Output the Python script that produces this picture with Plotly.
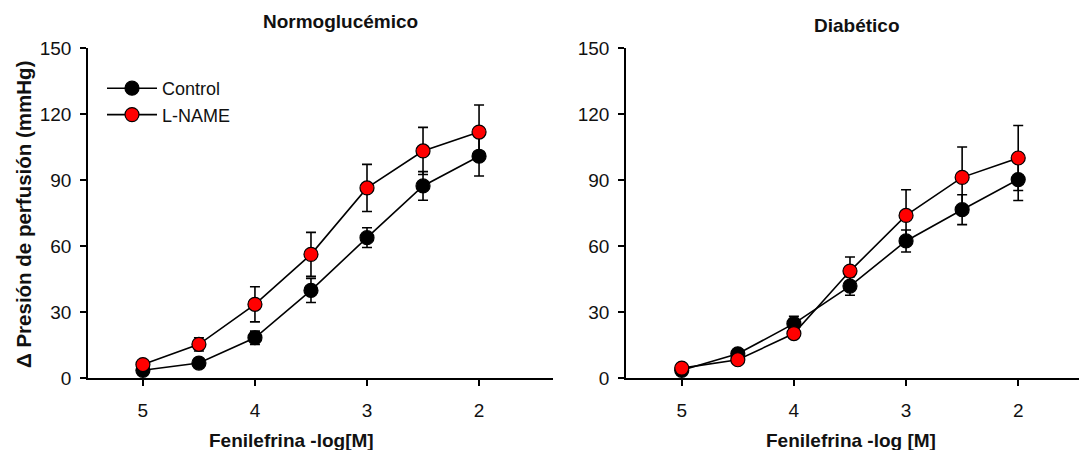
import plotly.graph_objects as go

# Data
x_vals = [5, 4.5, 4, 3.5, 3, 2.5, 2]
x_ticks = [5, 4, 3, 2]
y_ticks = [0, 30, 60, 90, 120, 150]

normo_control = [3.5, 6.8, 18.3, 39.8, 63.8, 87.3, 100.8]
normo_control_err = [1.0, 2.0, 3.0, 5.5, 4.5, 6.5, 9.0]
normo_lname = [6.1, 15.3, 33.5, 56.2, 86.4, 103.2, 111.8]
normo_lname_err = [1.5, 3.0, 8.0, 10.0, 10.7, 10.7, 12.3]

diab_control = [3.5, 11.0, 24.7, 41.8, 62.3, 76.5, 90.2]
diab_control_err = [1.0, 1.5, 3.3, 4.2, 5.0, 6.8, 9.5]
diab_lname = [4.5, 8.3, 20.2, 48.6, 73.9, 91.2, 100.0]
diab_lname_err = [1.0, 1.5, 2.0, 6.4, 11.7, 13.8, 14.8]

W, H = 1079, 450
FONT = "Liberation Sans, Arial, sans-serif"
TXT = "#111111"

fig = go.Figure()

def add_series(xa, ya, y, err, color, name, show):
    fig.add_trace(go.Scatter(
        x=x_vals, y=y, mode="lines+markers", name=name, showlegend=show,
        xaxis=xa, yaxis=ya,
        line=dict(color="black", width=1.6),
        marker=dict(size=14, color=color, line=dict(color="black", width=1.2)),
        error_y=dict(type="data", array=err, visible=True, color="black",
                     thickness=1.6, width=5),
    ))

add_series("x", "y", normo_control, normo_control_err, "black", "Control", True)
add_series("x", "y", normo_lname, normo_lname_err, "#ff0000", "L-NAME", True)
add_series("x2", "y2", diab_control, diab_control_err, "black", "Control", False)
add_series("x2", "y2", diab_lname, diab_lname_err, "#ff0000", "L-NAME", False)

ydom = [1 - 378 / H, 1 - 48 / H]
axis_common = dict(showline=True, linecolor="black", linewidth=1.6,
                   ticks="outside", ticklen=6, tickwidth=1.6, tickcolor="black",
                   showgrid=False, zeroline=False, automargin=False,
                   tickfont=dict(family=FONT, size=19, color=TXT))

fig.update_layout(
    width=W, height=H,
    margin=dict(l=0, r=0, t=0, b=0, pad=0, autoexpand=False),
    plot_bgcolor="white", paper_bgcolor="white",
    xaxis=dict(domain=[88 / W, 553 / W], range=[5.49, 1.34],
               tickvals=x_ticks, anchor="y", ticklabelstandoff=8, **axis_common),
    yaxis=dict(domain=ydom, range=[0, 150], tickvals=y_ticks, anchor="x",
               ticklabelstandoff=5, **axis_common),
    xaxis2=dict(domain=[626 / W, 1.0], range=[5.497, 1.458],
                tickvals=x_ticks, anchor="y2", ticklabelstandoff=8, **axis_common),
    yaxis2=dict(domain=ydom, range=[0, 150], tickvals=y_ticks, anchor="x2",
                ticklabelstandoff=5, **axis_common),
    legend=dict(x=102 / W, y=1 - 70 / H, xanchor="left", yanchor="top",
                bgcolor="rgba(0,0,0,0)", itemwidth=50, tracegroupgap=0,
                font=dict(family=FONT, size=18, color=TXT)),
    showlegend=True,
)

def ann(text, x, y, size=19, bold=True, angle=0):
    fig.add_annotation(text=f"<b>{text}</b>" if bold else text,
                       x=x / W, y=1 - y / H, xref="paper", yref="paper",
                       showarrow=False, textangle=angle,
                       font=dict(family=FONT, size=size, color=TXT),
                       xanchor="center", yanchor="middle")

ann("Normoglucémico", 340, 22)
ann("Diabético", 857, 25)
ann("Fenilefrina -log[M]", 291, 440)
ann("Fenilefrina -log [M]", 851, 440)
ann("Δ Presión de perfusión (mmHg)", 23, 215, size=20.5, angle=-90)

fig.write_html("out.html")
